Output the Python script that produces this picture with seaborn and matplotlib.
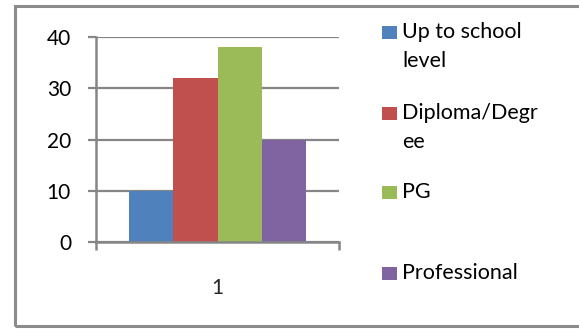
import matplotlib
matplotlib.use("Agg")
import matplotlib.pyplot as plt
import seaborn as sns
import pandas as pd
from matplotlib.patches import Rectangle

# Education level counts
categories = ["Up to school level", "Diploma/Degree", "PG", "Professional"]
values = [10, 32, 38, 20]
group_label = ["1"] * 4
legend_lines = [["Up to school", "level"], ["Diploma/Degr", "ee"], ["PG"], ["Professional"]]
colors = ["#4F81BD", "#C0504D", "#9BBB59", "#8064A2"]
yticks = [0, 10, 20, 30, 40]

df = pd.DataFrame({"group": group_label, "level": categories, "count": values})

sns.set_theme(style="white")
plt.rcParams["font.family"] = ["Lato", "DejaVu Sans"]

W, H = 579, 329
fig = plt.figure(figsize=(W / 100, H / 100), dpi=100)
ax = fig.add_axes([96 / W, 1 - 242 / H, (339 - 96) / W, (242 - 37) / H])

sns.barplot(data=df, x="group", y="count", hue="level", hue_order=categories,
            palette=colors, width=0.725, gap=0, saturation=1, ax=ax,
            legend=False, linewidth=0, edgecolor="none")

ax.set_xlim(-0.5, 0.5)
ax.set_ylim(0, 40)
ax.set_yticks(yticks)
ax.set_yticklabels([str(t) for t in yticks], fontsize=15, color="#000000")
ax.yaxis.grid(True, color="#868686", linewidth=1.6)
ax.set_axisbelow(True)
ax.set_xlabel("")
ax.set_ylabel("")

for side in ["top", "right"]:
    ax.spines[side].set_visible(False)
for side in ["left", "bottom"]:
    ax.spines[side].set_color("#868686")
    ax.spines[side].set_linewidth(1.8)

ax.tick_params(axis="y", direction="out", length=6, width=1.6, color="#868686",
               pad=12, left=True)
# category label without tick; boundary ticks at slot edges
ax.set_xticks([0])
ax.set_xticklabels(["1"], fontsize=15)
ax.tick_params(axis="x", which="major", length=0, pad=26)
ax.set_xticks([-0.5, 0.5], minor=True)
ax.tick_params(axis="x", which="minor", direction="out", length=5.5, width=1.8,
               color="#868686", bottom=True)

# outer chart border
fig.patches.append(Rectangle((15 / W, 1 - 326 / H), 600 / W, (326 - 6) / H,
                             transform=fig.transFigure, fill=False,
                             edgecolor="#8c8c8c", linewidth=2.2))

# legend entries
entry_y = [32, 113, 192, 273]
line_gap = 29
for lines, col, yc in zip(legend_lines, colors, entry_y):
    fig.patches.append(Rectangle((382 / W, 1 - (yc + 6.5) / H), 15 / W, 13 / H,
                                 transform=fig.transFigure, facecolor=col,
                                 edgecolor="none"))
    for i, txt in enumerate(lines):
        fig.text(402 / W, 1 - (yc + i * line_gap) / H, txt, fontsize=15.5,
                 ha="left", va="center", color="#000000")

fig.savefig("out.png", dpi=100, facecolor="white")
